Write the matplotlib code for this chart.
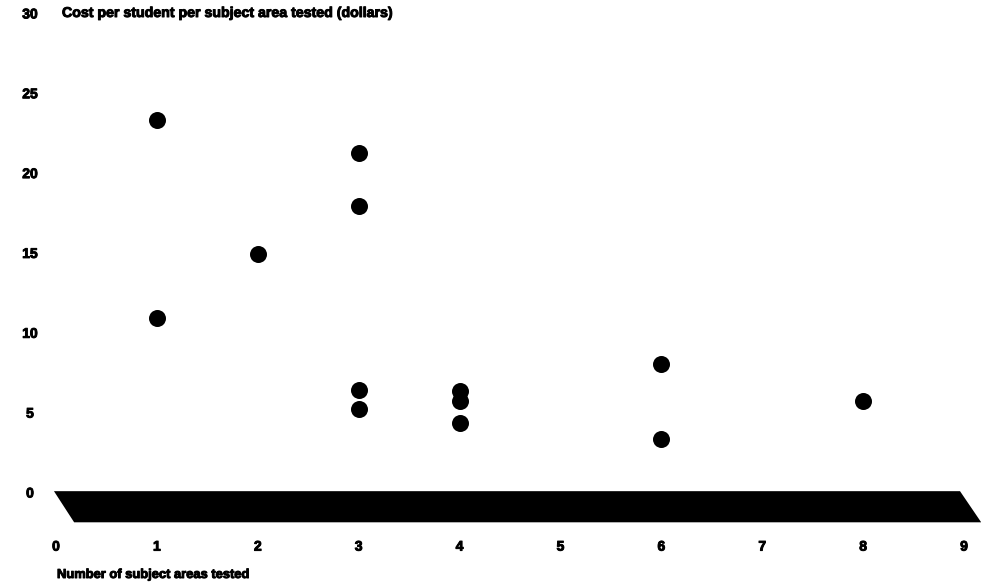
import matplotlib
matplotlib.use("Agg")
import matplotlib.pyplot as plt
import matplotlib.patheffects as pe
from matplotlib.patches import Polygon

# data
areas_tested = [1, 1, 2, 3, 3, 3, 3, 4, 4, 4, 6, 6, 8]
cost_per_student = [23.3, 10.9, 14.9, 21.2, 17.9, 6.4, 5.2, 6.3, 5.7, 4.3, 8.0, 3.3, 5.7]

y_ticks = [0, 5, 10, 15, 20, 25, 30]
x_ticks = [0, 1, 2, 3, 4, 5, 6, 7, 8, 9]

W, H = 983, 588
plt.rcParams['font.family'] = ['Liberation Sans', 'DejaVu Sans']
heavy = [pe.withStroke(linewidth=0.7, foreground='black')]

fig = plt.figure(figsize=(W / 100, H / 100), dpi=100)

# axes placed in pixel terms so that x=0 sits at px 56 and y=0 at px 492
left_px, right_px = 35.8, 981.2
top_px, bottom_px = 4.9, 527.1
ax = fig.add_axes([left_px / W, 1 - bottom_px / H,
                   (right_px - left_px) / W, (bottom_px - top_px) / H])
ax.set_xlim(-0.2, 9.17)
ax.set_ylim(-2.2, 30.5)

ax.scatter(areas_tested, cost_per_student, s=150, color='black', zorder=3,
           linewidths=0)

# thick black base band under the zero line
band = Polygon([(-0.02, 0.05), (8.96, 0.05), (9.17, -1.9), (0.18, -1.9)],
               closed=True, facecolor='black', edgecolor='none')
ax.add_patch(band)

for s in ax.spines.values():
    s.set_visible(False)

ax.set_yticks(y_ticks)
ax.set_yticklabels([str(v) for v in y_ticks], fontsize=10, fontweight='bold')
for lab in ax.get_yticklabels():
    lab.set_horizontalalignment('center')
    lab.set_path_effects(heavy)
ax.tick_params(axis='y', length=0, pad=4.2)

ax.set_xticks(x_ticks)
ax.set_xticklabels([str(v) for v in x_ticks], fontsize=10, fontweight='bold')
for lab in ax.get_xticklabels():
    lab.set_path_effects(heavy)
ax.tick_params(axis='x', length=0, pad=9)

fig.text(62 / W, 1 - 13 / H, 'Cost per student per subject area tested (dollars)',
         fontsize=10.2, fontweight='bold', va='center', ha='left',
         path_effects=heavy)
fig.text(57 / W, 1 - 575 / H, 'Number of subject areas tested',
         fontsize=9.3, fontweight='bold', va='center', ha='left',
         path_effects=heavy)

fig.savefig('out.png', dpi=100)
